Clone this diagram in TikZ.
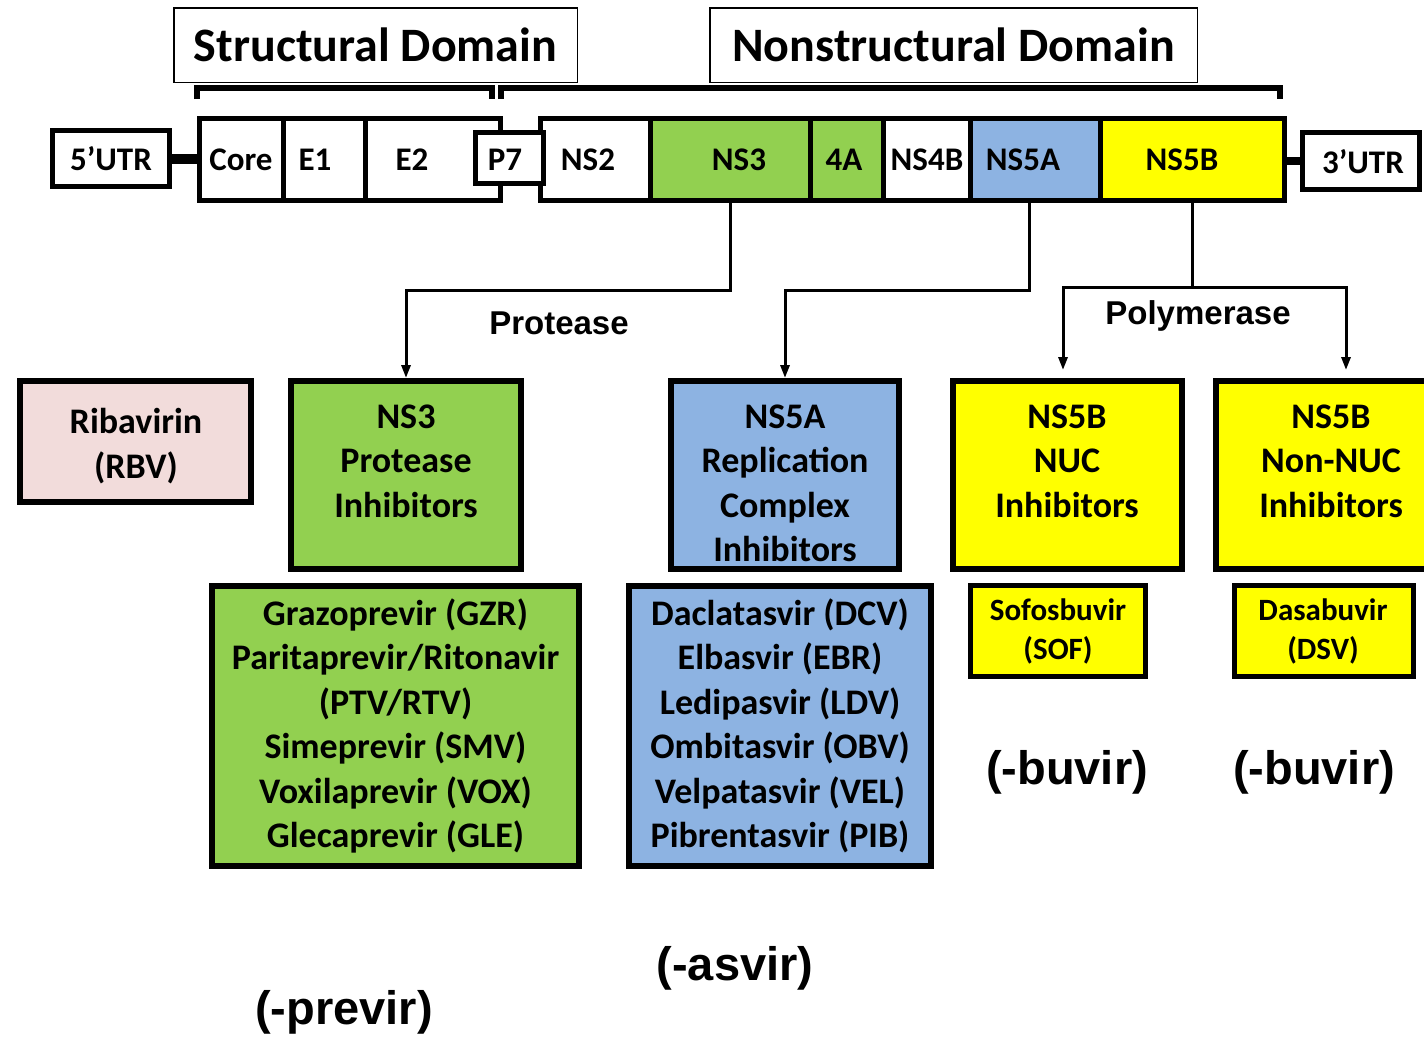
\documentclass[tikz,border=0pt]{standalone}
\usepackage{fontspec}
\setmainfont{Carlito}
\newfontfamily\arialfont{Liberation Sans}
\usetikzlibrary{arrows.meta,calc}
\definecolor{nsgreen}{HTML}{92D050}
\definecolor{nsblue}{HTML}{8DB3E2}
\definecolor{nsyellow}{HTML}{FFFF00}
\definecolor{rbvpink}{HTML}{F2DCDB}

\begin{document}
\begin{tikzpicture}[x=1pt,y=-1pt,
  domainbox/.style={draw, line width=1.5pt, inner sep=0pt,
    font=\fontsize{48}{56}\selectfont\bfseries},
  bracket/.style={line width=6pt},
  cell/.style={draw, line width=5pt, inner sep=0pt, minimum height=82pt},
  utrbox/.style={draw, line width=5pt, inner sep=0pt, fill=white},
  glabel/.style={inner sep=0pt, font=\fontsize{33}{36}\selectfont\bfseries},
  drugbox/.style={draw, line width=6pt, inner sep=0pt},
  smallbox/.style={draw, line width=5pt, inner sep=0pt, fill=nsyellow},
  boxtext/.style={align=center, inner sep=0pt,
    font=\fontsize{36}{44.5}\selectfont\bfseries},
  smalltext/.style={align=center, inner sep=0pt,
    font=\fontsize{31}{39}\selectfont\bfseries},
  enzyme/.style={inner sep=0pt, font=\arialfont\bfseries\fontsize{33}{36}\selectfont},
  suffix/.style={inner sep=0pt, font=\arialfont\bfseries\fontsize{47}{50}\selectfont},
  conn/.style={line width=3pt},
  tip/.style={-{Triangle[length=13pt,width=9pt]}}
]
\useasboundingbox (0,0) rectangle (1424,1036);
\fill[white] (0,0) rectangle (1424,1036);

% domain headings
\node[domainbox, minimum width=403.5pt, minimum height=74.5pt] (sdom) at (375.5,45) {Structural Domain};
\node[domainbox, minimum width=487.5pt, minimum height=74.5pt] (ndom) at (953.5,45) {Nonstructural Domain};

% brackets under the headings
\draw[bracket] (197,99) -- (197,88) -- (492,88) -- (492,99);
\draw[bracket] (501,99) -- (501,88) -- (1280,88) -- (1280,99);

% genome: structural proteins
\node[cell, fill=white, minimum width=83.5pt] (core) at (241.25,159.5) {};
\node[cell, fill=white, minimum width=82pt] (e1) at (324,159.5) {};
\node[cell, fill=white, minimum width=135.5pt] (e2) at (432.75,159.5) {};

% genome: nonstructural proteins
\node[cell, fill=white, minimum width=110pt] (ns2) at (595,159.5) {};
\node[cell, fill=nsgreen, minimum width=160pt] (ns3) at (730,159.5) {};
\node[cell, fill=nsgreen, minimum width=73pt] (ns4a) at (846.5,159.5) {};
\node[cell, fill=white, minimum width=87pt] (ns4b) at (926.5,159.5) {};
\node[cell, fill=nsblue, minimum width=130pt] (ns5a) at (1035,159.5) {};
\node[cell, fill=nsyellow, minimum width=184.5pt] (ns5b) at (1192.25,159.5) {};

% P7 and the untranslated regions
\node[utrbox, minimum width=68pt, minimum height=51pt] (p7) at (509.5,158) {};
\node[utrbox, minimum width=117pt, minimum height=56pt] (utr5) at (111,158.5) {};
\node[utrbox, minimum width=117pt, minimum height=57pt] (utr3) at (1361,161) {};
\draw[line width=10pt] (utr5.east) -- (utr5.east -| core.west);
\draw[line width=8pt] (utr3.west) -- (utr3.west -| ns5b.east);

% genome labels
\node[glabel] (l5utr) at (111,159) {5’UTR};
\node[glabel] (lcore) at (241,160) {Core};
\node[glabel] (le1) at (315,160) {E1};
\node[glabel] (le2) at (412,160) {E2};
\node[glabel] (lp7) at (505,160) {P7};
\node[glabel] (lns2) at (588,160) {NS2};
\node[glabel] (lns3) at (739,160) {NS3};
\node[glabel] (l4a) at (844,160) {4A};
\node[glabel] (lns4b) at (927,160) {NS4B};
\node[glabel] (lns5a) at (1023,160) {NS5A};
\node[glabel] (lns5b) at (1182,160) {NS5B};
\node[glabel] (l3utr) at (1363,162) {3’UTR};

% drug class boxes
\node[drugbox, fill=rbvpink, minimum width=231pt, minimum height=121pt] (rbv) at (135.5,441.5) {};
\node[drugbox, fill=nsgreen, minimum width=230pt, minimum height=188pt] (ns3pi) at (406,475) {};
\node[drugbox, fill=nsgreen, minimum width=367pt, minimum height=280pt] (pilist) at (395.5,726) {};
\node[drugbox, fill=nsblue, minimum width=228pt, minimum height=188pt] (ns5api) at (785,475) {};
\node[drugbox, fill=nsblue, minimum width=302pt, minimum height=280pt] (ns5alist) at (780,726) {};
\node[drugbox, fill=nsyellow, minimum width=229pt, minimum height=188pt] (nuc) at (1067.5,475) {};
\node[drugbox, fill=nsyellow, minimum width=230pt, minimum height=188pt] (nonnuc) at (1331,475) {};
\node[smallbox, minimum width=175pt, minimum height=91pt] (sof) at (1058,631) {};
\node[smallbox, minimum width=179pt, minimum height=91pt] (dsv) at (1324,631) {};

% box texts
\node[boxtext] (trbv) at (136,446) {Ribavirin\\(RBV)};
\node[boxtext] (tns3pi) at (406,461) {NS3\\Protease\\Inhibitors};
\node[boxtext] (tpilist) at (395.5,726) {Grazoprevir (GZR)\\Paritaprevir/Ritonavir\\(PTV/RTV)\\Simeprevir (SMV)\\Voxilaprevir (VOX)\\Glecaprevir (GLE)};
\node[boxtext] (tns5api) at (785,483.5) {NS5A\\Replication\\Complex\\Inhibitors};
\node[boxtext] (tns5alist) at (780,726) {Daclatasvir (DCV)\\Elbasvir (EBR)\\Ledipasvir (LDV)\\Ombitasvir (OBV)\\Velpatasvir (VEL)\\Pibrentasvir (PIB)};
\node[boxtext] (tnuc) at (1067,461) {NS5B\\NUC\\Inhibitors};
\node[boxtext] (tnonnuc) at (1331,461) {NS5B\\Non-NUC\\Inhibitors};
\node[smalltext] (tsof) at (1058,631) {Sofosbuvir\\(SOF)};
\node[smalltext] (tdsv) at (1323,631) {Dasabuvir\\(DSV)};

% connectors from the genome to the inhibitor classes
\draw[conn, tip] (ns3.south) -- ++(0,87) -| (ns3pi.north);
\draw[conn, tip] ([xshift=-6pt]ns5a.south) -- ++(0,87) -| (ns5api.north);
\coordinate (split) at ($(ns5b.south)+(0,84)$);
\draw[conn] (ns5b.south) -- (split);
\draw[conn, tip, shorten >=8pt] (split) -| ([xshift=-4.5pt]nuc.north);
\draw[conn, tip, shorten >=8pt] (split) -| ([xshift=15pt]nonnuc.north);

% enzyme labels
\node[enzyme] (protease) at (559,323) {Protease};
\node[enzyme] (polymerase) at (1198,316) {Polymerase};

% naming suffixes
\node[suffix] (sbuv1) at (1067,772) {(-buvir)};
\node[suffix] (sbuv2) at (1314,772) {(-buvir)};
\node[suffix] (sasv) at (735,968) {(-asvir)};
\node[suffix] (sprev) at (344,1012) {(-previr)};
\end{tikzpicture}
\end{document}
